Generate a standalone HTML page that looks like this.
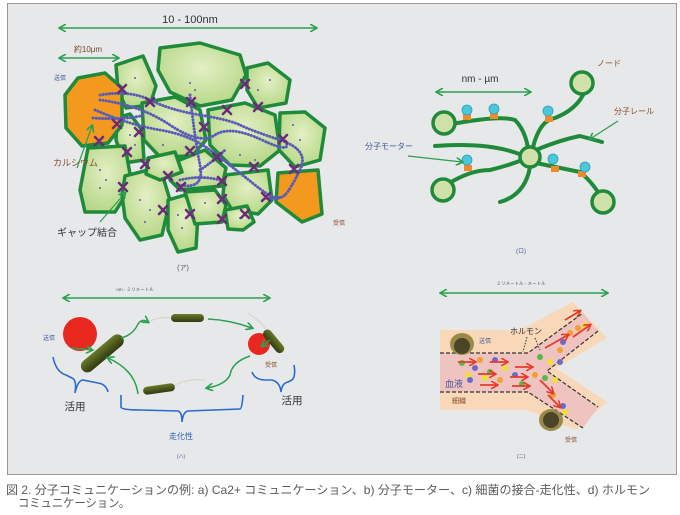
<!DOCTYPE html>
<html><head><meta charset="utf-8"><style>
html,body{margin:0;padding:0;background:#fff;width:680px;height:515px;overflow:hidden}
svg{display:block}
text{font-family:"Liberation Sans","Noto Sans CJK JP",sans-serif}
</style></head><body>
<svg width="680" height="515" viewBox="0 0 680 515" xmlns="http://www.w3.org/2000/svg">
<defs>
<marker id="ag" markerWidth="8" markerHeight="8" refX="6" refY="4" orient="auto-start-reverse" markerUnits="userSpaceOnUse"><path d="M0,0 L7,4 L0,8" fill="none" stroke="#2aa050" stroke-width="1.6"/></marker>
<marker id="ar" markerWidth="8" markerHeight="8" refX="6" refY="4" orient="auto" markerUnits="userSpaceOnUse"><path d="M0,0 L7,4 L0,8" fill="none" stroke="#e83a2a" stroke-width="1.6"/></marker>
<radialGradient id="cg" cx="50%" cy="40%" r="60%"><stop offset="0" stop-color="#e4efc4"/><stop offset="1" stop-color="#b7d889"/></radialGradient>
<linearGradient id="bac" x1="0" y1="0" x2="0" y2="1"><stop offset="0" stop-color="#6b7a2a"/><stop offset="1" stop-color="#2e3a12"/></linearGradient>
</defs>
<rect x="7.5" y="3.5" width="669" height="471" fill="#e6e8ea" stroke="#9a9a9a"/>

<!-- Panel a -->
<line x1="60" y1="28" x2="316" y2="28" stroke="#2aa050" stroke-width="1.6" marker-start="url(#ag)" marker-end="url(#ag)"/>
<text x="190" y="23" font-size="11" text-anchor="middle" fill="#333">10 - 100nm</text>
<line x1="60" y1="58" x2="118" y2="58" stroke="#2aa050" stroke-width="1.6" marker-start="url(#ag)" marker-end="url(#ag)"/>
<text x="88" y="52" font-size="8" text-anchor="middle" fill="#7a4a2a">約10μm</text>
<text x="60" y="80" font-size="6" text-anchor="middle" fill="#44589a">送信</text>
<g stroke="#1f8a3a" stroke-width="3.5" fill="url(#cg)" stroke-linejoin="round">
<path d="M160,48 L200,43 L240,55 L246,75 L232,100 L200,106 L170,92 L158,70Z"/>
<path d="M116,65 L143,56 L156,86 L150,105 L126,108 L118,90Z"/>
<path d="M247,68 L268,63 L290,80 L286,103 L258,108 L247,90Z"/>
<path d="M142,103 L175,97 L200,110 L206,140 L192,156 L160,157 L144,140Z"/>
<path d="M117,118 L130,114 L142,130 L144,160 L124,163 L116,140Z"/>
<path d="M208,110 L245,103 L275,115 L280,150 L260,166 L230,165 L210,145Z"/>
<path d="M280,113 L305,112 L325,128 L320,160 L295,167 L279,150Z"/>
<path d="M88,148 L125,146 L132,185 L115,212 L85,212 L80,190Z"/>
<path d="M125,176 L160,167 L170,200 L162,235 L140,240 L125,218 L122,195Z"/>
<path d="M172,163 L205,150 L226,168 L222,186 L180,190 L170,180Z"/>
<path d="M168,200 L185,195 L198,215 L196,248 L178,252 L168,230Z"/>
<path d="M185,192 L215,190 L226,205 L222,222 L195,224Z"/>
<path d="M225,175 L268,170 L272,200 L258,214 L232,210 L223,195Z"/>
<path d="M225,210 L247,206 L254,222 L243,230 L228,229Z"/>
<path d="M148,158 L175,152 L182,172 L160,180 L146,174Z"/>
</g>
<g stroke="#1f8a3a" stroke-width="3.5" fill="#f39a1e" stroke-linejoin="round">
<path d="M65,95 L78,78 L105,73 L122,88 L122,125 L108,143 L82,146 L66,128Z"/>
<path d="M278,173 L318,170 L322,214 L302,222 L276,202Z"/>
</g>
<g fill="none" stroke="#5a5ab8" stroke-width="3" stroke-dasharray="0.1 3" stroke-linecap="round">
<path d="M100,95 Q130,90 150,100 T200,115 T240,125 T280,140 T300,170 T285,195 T265,198"/>
<path d="M95,110 Q130,125 160,130 T210,150 T255,185 T280,195"/>
<path d="M190,95 Q195,140 200,165 T180,185"/>
<path d="M100,100 Q140,105 170,125 T215,135 T262,140 T285,140"/>
<path d="M93,118 Q125,120 145,115 M200,170 Q215,160 225,150 M180,180 Q200,175 220,180"/>
</g>
<g fill="#5a5ab8">
<circle cx="135" cy="78" r="1"/><circle cx="190" cy="83" r="1"/><circle cx="195" cy="90" r="1"/><circle cx="270" cy="80" r="1"/><circle cx="258" cy="90" r="1"/><circle cx="100" cy="170" r="1"/><circle cx="106" cy="180" r="1"/><circle cx="100" cy="188" r="1"/><circle cx="140" cy="200" r="1"/><circle cx="150" cy="210" r="1"/><circle cx="145" cy="222" r="1"/><circle cx="178" cy="215" r="1"/><circle cx="182" cy="228" r="1"/><circle cx="205" cy="203" r="1"/><circle cx="240" cy="218" r="1"/><circle cx="293" cy="125" r="1"/><circle cx="300" cy="140" r="1"/><circle cx="163" cy="145" r="1"/><circle cx="240" cy="155" r="1"/><circle cx="255" cy="160" r="1"/><circle cx="130" cy="135" r="1"/><circle cx="135" cy="145" r="1"/>
</g>
<g stroke="#6b2a7a" stroke-width="2.5" stroke-linecap="round">
<path d="M118,85 l8,8 M126,85 l-8,8 M146,98 l8,8 M154,98 l-8,8 M187,98 l8,8 M195,98 l-8,8 M241,80 l8,8 M249,80 l-8,8 M223,106 l8,8 M231,106 l-8,8 M254,103 l8,8 M262,103 l-8,8 M113,120 l8,8 M121,120 l-8,8 M135,128 l8,8 M143,128 l-8,8 M200,123 l8,8 M208,123 l-8,8 M279,135 l8,8 M287,135 l-8,8 M95,137 l8,8 M103,137 l-8,8 M123,148 l8,8 M131,148 l-8,8 M186,147 l8,8 M194,147 l-8,8 M213,153 l8,8 M221,153 l-8,8 M141,160 l8,8 M149,160 l-8,8 M250,163 l8,8 M258,163 l-8,8 M290,165 l8,8 M298,165 l-8,8 M164,172 l8,8 M172,172 l-8,8 M119,183 l8,8 M127,183 l-8,8 M177,183 l8,8 M185,183 l-8,8 M218,177 l8,8 M226,177 l-8,8 M262,193 l8,8 M270,193 l-8,8 M218,195 l8,8 M226,195 l-8,8 M159,206 l8,8 M167,206 l-8,8 M186,210 l8,8 M194,210 l-8,8 M218,215 l8,8 M226,215 l-8,8 M241,210 l8,8 M249,210 l-8,8"/>
</g>
<line x1="77" y1="168" x2="92" y2="126" stroke="#2aa050" stroke-width="1.2" marker-end="url(#ag)"/>
<line x1="100" y1="222" x2="125" y2="193" stroke="#2aa050" stroke-width="1.2" marker-end="url(#ag)"/>
<text x="53" y="166" font-size="9" fill="#8a4a2a">カルシウム</text>
<text x="57" y="236" font-size="10" fill="#333">ギャップ結合</text>
<text x="333" y="225" font-size="6" fill="#8a4a2a">受信</text>
<text x="183" y="270" font-size="7" text-anchor="middle" fill="#555">(ア)</text>

<!-- Panel b -->
<line x1="437" y1="92" x2="530" y2="92" stroke="#2aa050" stroke-width="1.6" marker-start="url(#ag)" marker-end="url(#ag)"/>
<text x="480" y="82" font-size="10" text-anchor="middle" fill="#333">nm - µm</text>
<g fill="none" stroke="#1f8a3a" stroke-width="4" stroke-linecap="round">
<path d="M452,124 Q500,115 515,120 Q525,130 528,148"/>
<path d="M435,146 Q490,142 522,155"/>
<path d="M448,184 Q470,170 490,170 Q510,165 522,160"/>
<path d="M530,167 Q525,195 500,202"/>
<path d="M536,163 Q560,168 580,172 Q590,180 598,192"/>
<path d="M536,150 Q560,140 580,136 Q595,140 602,142"/>
<path d="M533,147 Q540,120 555,118 Q575,110 583,95"/>
</g>
<g fill="#cfe0a8" stroke="#1f8a3a" stroke-width="3.5">
<circ cx="0"/>
<circle cx="582" cy="83" r="11"/><circle cx="444" cy="123" r="11"/><circle cx="530" cy="157" r="10"/><circle cx="443" cy="190" r="11"/><circle cx="603" cy="202" r="11"/>
</g>
<g fill="#f08a2a"><rect x="463" y="114" width="8" height="6"/><rect x="490" y="113" width="8" height="6"/><rect x="545" y="116" width="8" height="6"/><rect x="464" y="165" width="8" height="6"/><rect x="551" y="166" width="8" height="6"/><rect x="578" y="171" width="8" height="6"/></g>
<g fill="#4cc6d8" stroke="#2aa0b8" stroke-width="0.8"><circle cx="467" cy="110" r="5"/><circle cx="494" cy="109" r="5"/><circle cx="548" cy="111" r="5"/><circle cx="467" cy="160" r="5"/><circle cx="553" cy="159" r="5"/><circle cx="585" cy="167" r="5"/></g>
<line x1="408" y1="156" x2="462" y2="162" stroke="#2aa050" stroke-width="1.2" marker-end="url(#ag)"/>
<line x1="618" y1="121" x2="590" y2="139" stroke="#2aa050" stroke-width="1.2" marker-end="url(#ag)"/>
<text x="365" y="149" font-size="8" fill="#44589a">分子モーター</text>
<text x="597" y="66" font-size="8" fill="#8a4a2a">ノード</text>
<text x="614" y="114" font-size="8" fill="#8a4a2a">分子レール</text>
<text x="521" y="253" font-size="6" text-anchor="middle" fill="#44589a">(ロ)</text>

<!-- Panel c -->
<line x1="64" y1="298" x2="269" y2="298" stroke="#2aa050" stroke-width="1.6" marker-start="url(#ag)" marker-end="url(#ag)"/>
<text x="135" y="291" font-size="4.5" text-anchor="middle" fill="#555">nm - ミリメートル</text>
<circle cx="80" cy="334" r="17" fill="#e8281e"/>
<circle cx="259" cy="344" r="11" fill="#e8281e"/>
<g fill="url(#bac)">
<rect x="76" y="347" width="52" height="13" rx="6.5" transform="rotate(-40 102 353)"/>
<rect x="171" y="314" width="33" height="8" rx="4"/>
<rect x="143" y="385" width="32" height="8" rx="4" transform="rotate(-8 159 389)"/>
<rect x="260" y="337" width="28" height="9" rx="4.5" transform="rotate(50 274 341)"/>
</g>
<g fill="none" stroke="#d8d8c8" stroke-width="1.2">
<path d="M148,322 Q160,316 171,318"/><path d="M175,385 Q190,378 205,380"/><path d="M248,313 Q262,322 266,330"/>
</g>
<g fill="none" stroke="#2aa050" stroke-width="1.5">
<path d="M121,338 Q133,335 138,324 Q142,318 148,322" marker-end="url(#ag)"/>
<path d="M208,319 Q230,320 252,328" marker-end="url(#ag)"/>
<path d="M250,356 Q232,362 230,375 Q225,385 207,388" marker-end="url(#ag)"/>
<path d="M138,394 Q135,370 108,358" marker-end="url(#ag)"/>
<path d="M72,348 L92,350" marker-end="url(#ag)"/>
<path d="M270,340 L262,346" marker-end="url(#ag)"/>
</g>
<g fill="none" stroke="#2a6ad0" stroke-width="1.6">
<path d="M53,357 Q56,372 66,375 L72,378 Q77,380 75,393 M75,393 Q78,380 83,380 L98,383 Q106,384 108,392"/>
<path d="M121,395 L121,407 Q121,410 140,410 L178,411 Q182,412 182,422 M182,422 Q183,412 188,411 L240,409 Q242,409 243,395"/>
<path d="M252,372 Q255,380 265,380 L272,380 Q280,382 281,392 M281,392 Q282,383 288,382 L292,380 Q296,376 294,365"/>
</g>
<text x="43" y="340" font-size="6" fill="#44589a">送信</text>
<text x="265" y="367" font-size="6" fill="#8a4a2a">受信</text>
<text x="75" y="410" font-size="10.5" text-anchor="middle" fill="#333">活用</text>
<text x="292" y="404" font-size="10.5" text-anchor="middle" fill="#333">活用</text>
<text x="181" y="439" font-size="8" text-anchor="middle" fill="#2a5ab0">走化性</text>
<text x="181" y="458" font-size="5" text-anchor="middle" fill="#44589a">(ハ)</text>

<!-- Panel d -->
<line x1="441" y1="293" x2="607" y2="293" stroke="#2aa050" stroke-width="1.6" marker-start="url(#ag)" marker-end="url(#ag)"/>
<text x="521" y="285" font-size="4.5" text-anchor="middle" fill="#555">ミリメートル - メートル</text>
<path d="M440,330 L520,330 L573,302 L607,338 L556,368 L607,402 L576,430 L526,410 L440,410Z" fill="#f8d8b8"/>
<path d="M440,353 L528,353 L583,313 L598,331 L547,371 L598,407 L583,428 L528,392 L440,392Z" fill="#efc3c0"/>
<g fill="none" stroke="#333" stroke-width="1.2" stroke-dasharray="4 2">
<path d="M440,353 L528,353 L583,313"/><path d="M440,392 L528,392 L583,428"/><path d="M598,331 L547,371 L598,407"/>
</g>
<ellipse cx="462" cy="344" rx="12" ry="11" fill="#9a8a4a"/><ellipse cx="462" cy="346" rx="8" ry="8" fill="#4a4428"/>
<ellipse cx="551" cy="420" rx="12" ry="11" fill="#9a8a4a"/><ellipse cx="551" cy="420" rx="8" ry="8" fill="#4a4428"/>
<g>
<circle cx="462" cy="363" r="3" fill="#55b84a"/><circle cx="475" cy="368" r="3" fill="#6a6ac8"/><circle cx="480" cy="360" r="3" fill="#f0a030"/><circle cx="468" cy="375" r="3" fill="#f0e030"/><circle cx="490" cy="372" r="3" fill="#55b84a"/><circle cx="495" cy="360" r="3" fill="#6a6ac8"/><circle cx="505" cy="368" r="3" fill="#f0e030"/><circle cx="500" cy="380" r="3" fill="#f0a030"/><circle cx="515" cy="375" r="3" fill="#6a6ac8"/><circle cx="522" cy="384" r="3" fill="#55b84a"/><circle cx="535" cy="375" r="3" fill="#f0a030"/><circle cx="545" cy="378" r="3" fill="#55b84a"/><circle cx="555" cy="380" r="3" fill="#f0e030"/><circle cx="540" cy="357" r="3" fill="#55b84a"/><circle cx="560" cy="362" r="3" fill="#6a6ac8"/><circle cx="550" cy="362" r="3" fill="#f0e030"/><circle cx="470" cy="380" r="3" fill="#6a6ac8"/><circle cx="485" cy="378" r="3" fill="#f0e030"/><circle cx="553" cy="395" r="3" fill="#f0a030"/><circle cx="565" cy="412" r="3" fill="#f0e030"/><circle cx="563" cy="406" r="3" fill="#6a6ac8"/><circle cx="570" cy="333" r="3" fill="#f0a030"/><circle cx="563" cy="342" r="3" fill="#6a6ac8"/><circle cx="578" cy="328" r="3" fill="#f0a030"/><circle cx="560" cy="350" r="3" fill="#f0a030"/><circle cx="585" cy="325" r="3" fill="#f0e030"/>
</g>
<g stroke="#e83a2a" stroke-width="1.8" marker-end="url(#ar)">
<line x1="458" y1="362" x2="475" y2="362"/><line x1="490" y1="362" x2="507" y2="362"/><line x1="515" y1="367" x2="532" y2="367"/><line x1="478" y1="374" x2="495" y2="374"/><line x1="510" y1="377" x2="527" y2="377"/><line x1="480" y1="385" x2="497" y2="385"/><line x1="512" y1="386" x2="529" y2="386"/><line x1="545" y1="348" x2="568" y2="335"/><line x1="573" y1="337" x2="590" y2="325"/><line x1="565" y1="320" x2="580" y2="311"/><line x1="540" y1="380" x2="553" y2="393"/><line x1="548" y1="395" x2="560" y2="407"/>
</g>
<g stroke="#333" stroke-width="1" stroke-dasharray="1.5 1.5"><line x1="527" y1="337" x2="523" y2="352"/><line x1="535" y1="338" x2="540" y2="350"/></g>
<text x="510" y="334" font-size="8" fill="#333">ホルモン</text>
<text x="479" y="343" font-size="6" fill="#44589a">送信</text>
<text x="445" y="387" font-size="9" fill="#44589a">血液</text>
<text x="452" y="403" font-size="7" fill="#8a4a2a">細織</text>
<text x="565" y="442" font-size="6" fill="#8a4a2a">受信</text>
<text x="521" y="458" font-size="5" text-anchor="middle" fill="#555">(ニ)</text>

<!-- Caption -->
<text x="6" y="494" font-size="12" fill="#5a5a5a" textLength="644" lengthAdjust="spacingAndGlyphs">図 2. 分子コミュニケーションの例: a) Ca2+ コミュニケーション、b) 分子モーター、c) 細菌の接合-走化性、d) ホルモン</text>
<text x="18" y="507" font-size="12" fill="#5a5a5a" textLength="112" lengthAdjust="spacingAndGlyphs">コミュニケーション。</text>
</svg>
</body></html>
